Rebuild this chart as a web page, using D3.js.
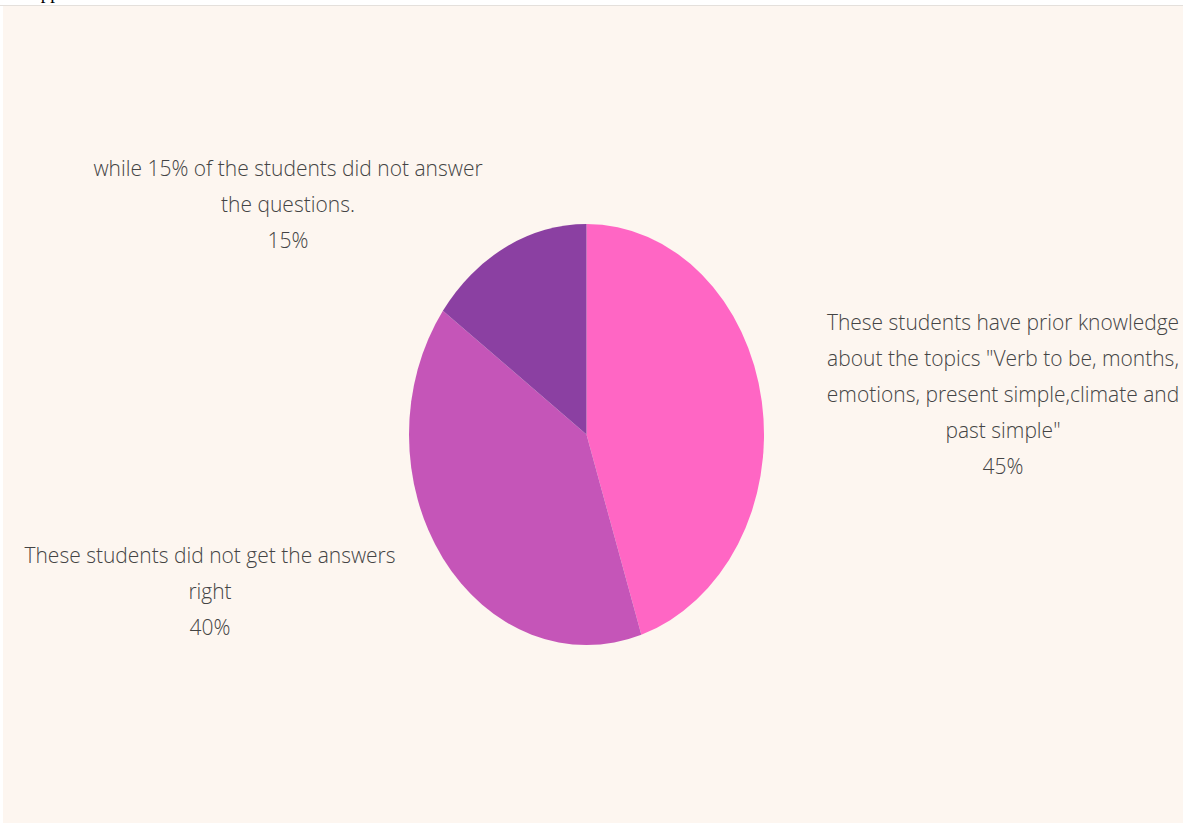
<!DOCTYPE html>
<html>
<head>
<meta charset="utf-8">
<script src="https://cdn.jsdelivr.net/npm/d3@7/dist/d3.min.js"></script>
<style>
  html, body { margin: 0; padding: 0; background: #ffffff; }
  svg { display: block; }
</style>
</head>
<body>
<svg id="chart" width="1183" height="823"></svg>
<script>
// Survey answers (percent of students)
const categories = [
  "These students have prior knowledge about the topics \"Verb to be, months, emotions, present simple,climate and past simple\"",
  "These students did not get the answers right",
  "while 15% of the students did not answer the questions."
];
const values = [45, 40, 15];
const colors = ["#ff66c4", "#c555b8", "#8b40a2"];

// Wrapped label lines for each slice
const labelLines = [
  ["These students have prior knowledge", "about the topics \"Verb to be, months,", "emotions, present simple,climate and", "past simple\""],
  ["These students did not get the answers", "right"],
  ["while 15% of the students did not answer", "the questions."]
];

const svg = d3.select("#chart");
const W = 1183, H = 823;

// page background with the cream panel
svg.append("rect").attr("width", W).attr("height", H).attr("fill", "#ffffff");
svg.append("line").attr("x1", 0).attr("x2", W).attr("y1", 5.5).attr("y2", 5.5)
  .attr("stroke", "#e4e0dc").attr("stroke-width", 1);
svg.append("rect").attr("x", 3).attr("y", 6).attr("width", W - 3).attr("height", H - 6)
  .attr("fill", "#fdf6f0");
svg.append("text").attr("x", 27).attr("y", -1)
  .attr("font-family", "Liberation Serif, serif").attr("font-size", 19)
  .attr("fill", "#000").text("Appendix");

// pie geometry (drawn as an ellipse)
const cx = 586.5, cy = 434.5, rx = 177.5, ry = 210.5;
const pie = d3.pie().sort(null).value(d => d)(values);
const arc = d3.arc().innerRadius(0).outerRadius(rx);

const g = svg.append("g")
  .attr("transform", `translate(${cx},${cy}) scale(1,${ry / rx})`);
g.selectAll("path").data(pie).join("path")
  .attr("d", arc)
  .attr("fill", (d, i) => colors[i]);

// label blocks: centre x and first-line y
const labelPos = [
  { x: 1003, y: 322 },
  { x: 210, y: 555 },
  { x: 288, y: 168 }
];
const lineH = 36;
const tall = 1.08; // slightly narrow, tall lettering

pie.forEach((d, i) => {
  const lines = labelLines[i].concat([d3.format(".0f")(values[i]) + "%"]);
  const t = svg.append("text")
    .attr("transform", `translate(${labelPos[i].x},${labelPos[i].y}) scale(1,${tall})`)
    .attr("text-anchor", "middle")
    .attr("font-family", "'Open Sans', sans-serif")
    .attr("font-weight", 300)
    .attr("font-size", 21)
    .attr("fill", "#444444");
  lines.forEach((ln, k) => {
    t.append("tspan")
      .attr("x", 0)
      .attr("y", k * lineH / tall)
      .attr("dy", "0.35em")
      .text(ln);
  });
});
</script>
</body>
</html>
